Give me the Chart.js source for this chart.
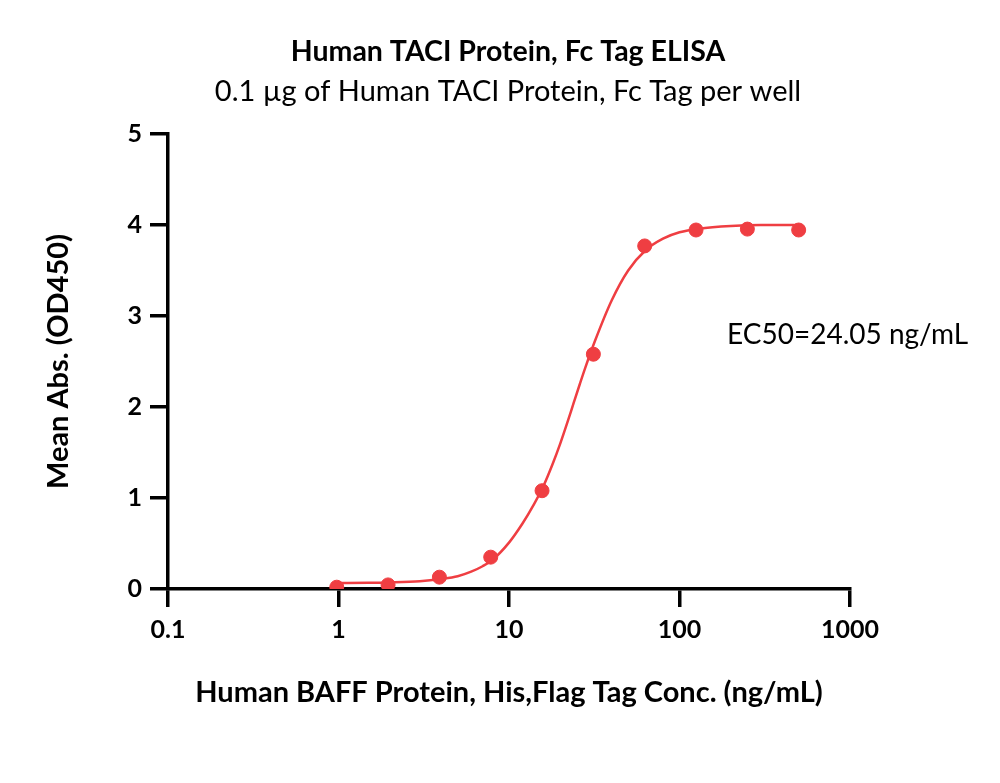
<!DOCTYPE html>
<html>
<head>
<meta charset="UTF-8">
<title>Human TACI Protein, Fc Tag ELISA</title>
<script src="https://cdn.jsdelivr.net/npm/chart.js"></script>
<style>
  html, body { margin: 0; padding: 0; background: #fff; }
  #wrap { width: 1000px; height: 783px; }
</style>
</head>
<body>
<div id="wrap"><canvas id="elisaChart" width="1000" height="783"></canvas></div>

<script>
    // measured points (conc. ng/mL vs OD450)
    const conc = [0.977, 1.953, 3.906, 7.813, 15.625, 31.25, 62.5, 125, 250, 500];
    const od450 = [0.02, 0.045, 0.13, 0.35, 1.08, 2.58, 3.77, 3.945, 3.955, 3.945];

    // fitted curve
    const fitX = [0.977, 1.5, 2, 3, 4, 5, 6, 7, 8, 10, 12, 14, 16, 18, 20, 22, 24, 26, 28, 32, 40, 50, 63, 80, 100, 130, 200, 300, 500];
    const fitY = [0.065, 0.068, 0.072, 0.085, 0.11, 0.14, 0.19, 0.25, 0.32, 0.51, 0.72, 0.93, 1.14, 1.37, 1.60, 1.83, 2.05, 2.25, 2.43, 2.73, 3.17, 3.50, 3.72, 3.85, 3.92, 3.96, 3.99, 4.0, 4.0];

    const xTicks = [0.1, 1, 10, 100, 1000];
    const yTicks = [0, 1, 2, 3, 4, 5];

    const red = '#EF3E42';
    const font = 'Lato';

    const ec50Label = {
        id: 'ec50Label',
        afterDraw(chart) {
            const ctx = chart.ctx;
            const area = chart.chartArea;
            ctx.save();
            ctx.fillStyle = '#000';
            ctx.font = '28px ' + font;
            ctx.textBaseline = 'middle';
            ctx.textAlign = 'left';
            ctx.fillText('EC50=24.05 ng/mL', area.right - 123, 335);
            ctx.restore();
        }
    };

    new Chart(document.getElementById('elisaChart').getContext('2d'), {
        type: 'scatter',
        data: {
            datasets: [{
                label: 'fit',
                data: fitX.map((x, i) => ({ x: x, y: fitY[i] })),
                showLine: true,
                borderColor: red,
                borderWidth: 2.5,
                pointRadius: 0,
                cubicInterpolationMode: 'monotone',
                order: 2
            }, {
                label: 'data',
                data: conc.map((x, i) => ({ x: x, y: od450[i] })),
                backgroundColor: red,
                borderColor: red,
                pointRadius: 7,
                order: 1
            }]
        },
        options: {
            responsive: false,
            animation: false,
            layout: { padding: { top: 35, right: 0, bottom: 44, left: 16 } },
            plugins: {
                legend: { display: false },
                tooltip: { enabled: false },
                title: {
                    display: true,
                    text: 'Human TACI Protein, Fc Tag ELISA',
                    color: '#000',
                    font: { family: font, size: 28.5, weight: 'bold' },
                    padding: { top: 0, bottom: 5 }
                },
                subtitle: {
                    display: true,
                    text: '0.1 µg of Human TACI Protein, Fc Tag per well',
                    color: '#000',
                    font: { family: font, size: 29 },
                    padding: { top: 0, bottom: 25 }
                }
            },
            scales: {
                x: {
                    type: 'logarithmic',
                    min: 0.1,
                    max: 1000,
                    afterBuildTicks: s => { s.ticks = xTicks.map(v => ({ value: v })); },
                    afterFit: s => { s.height = 150; },
                    border: { display: true, color: '#000', width: 3.5 },
                    grid: { drawOnChartArea: false, drawTicks: true, tickLength: 18, color: '#000', lineWidth: 3.5 },
                    ticks: {
                        color: '#000',
                        padding: 8,
                        maxRotation: 0,
                        autoSkip: false,
                        font: { family: font, size: 25, weight: 'bold' },
                        callback: v => String(v)
                    },
                    title: {
                        display: true,
                        text: 'Human BAFF Protein, His,Flag Tag Conc. (ng/mL)',
                        color: '#000',
                        font: { family: font, size: 29, weight: 'bold' },
                        padding: { top: 0, bottom: 29 }
                    }
                },
                y: {
                    min: 0,
                    max: 5,
                    afterBuildTicks: s => { s.ticks = yTicks.map(v => ({ value: v })); },
                    afterFit: s => { s.width = 152; },
                    border: { display: true, color: '#000', width: 3.5 },
                    grid: { drawOnChartArea: false, drawTicks: true, tickLength: 18, color: '#000', lineWidth: 3.5 },
                    ticks: {
                        color: '#000',
                        padding: 8,
                        font: { family: font, size: 25, weight: 'bold' }
                    },
                    title: {
                        display: true,
                        text: 'Mean Abs. (OD450)',
                        color: '#000',
                        font: { family: font, size: 29, weight: 'bold' },
                        padding: { top: 25, bottom: 0 }
                    }
                },
                // empty right-hand strip so the titles centre on the page
                spacer: {
                    position: 'right',
                    display: true,
                    afterFit: s => { s.width = 150; },
                    border: { display: false },
                    grid: { display: false },
                    ticks: { display: false }
                }
            }
        },
        plugins: [ec50Label]
    });
</script>
</body>
</html>
